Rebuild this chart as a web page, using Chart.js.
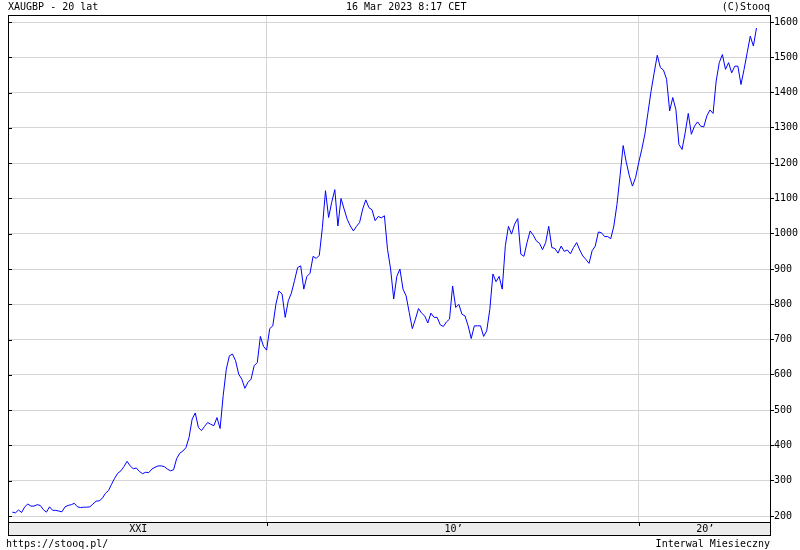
<!DOCTYPE html>
<html>
<head>
<meta charset="utf-8">
<script src="https://cdn.jsdelivr.net/npm/chart.js@4"></script>
<style>
  html, body { margin: 0; padding: 0; background: #fff; }
  #wrap { position: relative; width: 800px; height: 550px; overflow: hidden; }
  #wrap canvas { position: absolute; left: 0; top: 0; }
  .txt { position: absolute; font: 10px "DejaVu Sans Mono", monospace; line-height: 12px; color: #000; white-space: pre; }
</style>
</head>
<body>
<div id="wrap">
  <canvas id="c" width="800" height="550"></canvas>
  <div class="txt" style="left:8px; top:1px;">XAUGBP - 20 lat</div>
  <div class="txt" style="left:346px; top:1px;">16 Mar 2023 8:17 CET</div>
  <div class="txt" style="right:30px; top:1px;">(C)Stooq</div>
  <div class="txt" style="left:6px; top:538px;">https://stooq.pl/</div>
  <div class="txt" style="right:30px; top:538px;">Interwal Miesieczny</div>
</div>
<script>
// ---- data (monthly closes, XAUGBP, from March 2003) ----
const startYear = 2003;
const startMonth = 3;
const prices = [
  211, 209, 217, 210, 226, 234, 228, 228, 232, 230,
  218, 211, 226, 216, 216, 214, 212, 226, 230, 232,
  236, 226, 224, 225, 225, 226, 234, 242, 243, 250,
  264, 272, 290, 307, 321, 328, 340, 355, 342, 334,
  336, 326, 320, 324, 323, 333, 338, 342, 342, 340,
  333, 328, 331, 363, 378, 384, 394, 423, 475, 492,
  451, 442, 454, 465, 460, 456, 479, 448, 541, 616,
  654, 659, 640, 602, 588, 562, 579, 588, 626, 635,
  709, 681, 670, 731, 739, 800, 838, 829, 763, 810,
  832, 867, 904, 909, 843, 879, 888, 936, 930, 939,
  1018, 1122, 1046, 1089, 1125, 1022, 1100, 1070, 1041, 1022,
  1008, 1021, 1032, 1070, 1096, 1074, 1068, 1037, 1049, 1045,
  1051, 956, 900, 815, 879, 900, 843, 824, 777, 731,
  758, 788, 775, 767, 747, 775, 763, 763, 742, 737,
  750, 758, 852, 791, 800, 772, 767, 739, 703, 739,
  739, 739, 709, 725, 786, 886, 864, 879, 843, 966,
  1021, 999, 1027, 1043, 942, 936, 975, 1008, 996, 980,
  973, 955, 975, 1021, 961, 958, 945, 965, 950, 954,
  943, 961, 975, 954, 937, 927, 916, 952, 965, 1005,
  1003, 992, 992, 986, 1022, 1083, 1164, 1250, 1203, 1164,
  1135, 1159, 1201, 1239, 1282, 1343, 1404, 1456, 1506, 1471,
  1464, 1438, 1348, 1386, 1352, 1253, 1239, 1286, 1341, 1282,
  1305, 1317, 1305, 1303, 1334, 1351, 1341, 1433, 1485, 1508,
  1466, 1485, 1456, 1475, 1475, 1423, 1466, 1513, 1560, 1532,
  1583
];
const yTickValues = [200, 300, 400, 500, 600, 700, 800, 900, 1000, 1100, 1200, 1300, 1400, 1500, 1600];
const decadeLines = [2010, 2020];
const decadeLabels = ["XXI", "10\u2019", "20\u2019"];

// month positions as fractional years
const points = prices.map((v, i) => ({ x: startYear + (startMonth - 1 + i) / 12, y: v }));

const xMin = 2003.05, xMax = 2023.53;
const yMin = 183, yMax = 1620;
const FONT = '10px "DejaVu Sans Mono", monospace';

const framePlugin = {
  id: 'frame',
  afterDraw(chart) {
    const ctx = chart.ctx;
    const a = chart.chartArea;
    const xs = chart.scales.x, ys = chart.scales.y;
    const stripTop = a.bottom, stripH = 13;
    ctx.save();
    // bottom label strip
    ctx.fillStyle = '#ececec';
    ctx.fillRect(a.left, stripTop, a.right - a.left, stripH);
    ctx.strokeStyle = '#000';
    ctx.lineWidth = 1;
    ctx.strokeRect(Math.round(a.left) + 0.5, Math.round(stripTop) + 0.5, Math.round(a.right - a.left), stripH);
    // ticks into strip at decade lines
    ctx.beginPath();
    decadeLines.forEach(d => {
      const px = Math.round(xs.getPixelForValue(d)) + 0.5;
      ctx.moveTo(px, stripTop);
      ctx.lineTo(px, stripTop + 4);
    });
    // inward ticks on left border
    yTickValues.forEach(v => {
      const py = Math.round(ys.getPixelForValue(v)) + 0.5;
      ctx.moveTo(a.left, py);
      ctx.lineTo(a.left + 4, py);
    });
    ctx.stroke();
    // strip labels centred between boundaries
    const bounds = [xMin].concat(decadeLines, [xMax]);
    ctx.fillStyle = '#000';
    ctx.font = FONT;
    ctx.textAlign = 'center';
    ctx.textBaseline = 'middle';
    decadeLabels.forEach((lab, k) => {
      const c = (xs.getPixelForValue(bounds[k]) + xs.getPixelForValue(bounds[k + 1])) / 2;
      ctx.fillText(lab, c + 1, stripTop + stripH / 2 + 1);
    });
    // plot frame
    ctx.strokeRect(Math.round(a.left) + 0.5, Math.round(a.top) + 0.5, Math.round(a.right - a.left), Math.round(a.bottom - a.top));
    ctx.restore();
  }
};

new Chart(document.getElementById('c'), {
  type: 'line',
  data: {
    datasets: [{
      data: points,
      borderColor: '#0000ff',
      borderWidth: 1,
      pointRadius: 0,
      tension: 0,
      fill: false
    }]
  },
  options: {
    responsive: false,
    animation: false,
    events: [],
    layout: { padding: { left: 8, top: 15, right: 0, bottom: 15 } },
    plugins: { legend: { display: false }, tooltip: { enabled: false } },
    scales: {
      x: {
        type: 'linear',
        min: xMin,
        max: xMax,
        afterBuildTicks: s => { s.ticks = decadeLines.map(v => ({ value: v })); },
        afterFit: s => { s.height = 13; },
        grid: { color: '#d4d4d4', drawTicks: false, lineWidth: 1 },
        border: { display: false },
        ticks: { display: false }
      },
      y: {
        position: 'right',
        min: yMin,
        max: yMax,
        afterBuildTicks: s => { s.ticks = yTickValues.map(v => ({ value: v })); },
        afterFit: s => { s.width = 30; },
        grid: { color: '#d4d4d4', tickColor: '#000', tickLength: 4, lineWidth: 1 },
        border: { display: false },
        ticks: {
          color: '#000',
          font: { family: '"DejaVu Sans Mono", monospace', size: 10 },
          padding: 0,
          callback: v => String(v)
        }
      }
    }
  },
  plugins: [framePlugin]
});
</script>
</body>
</html>
